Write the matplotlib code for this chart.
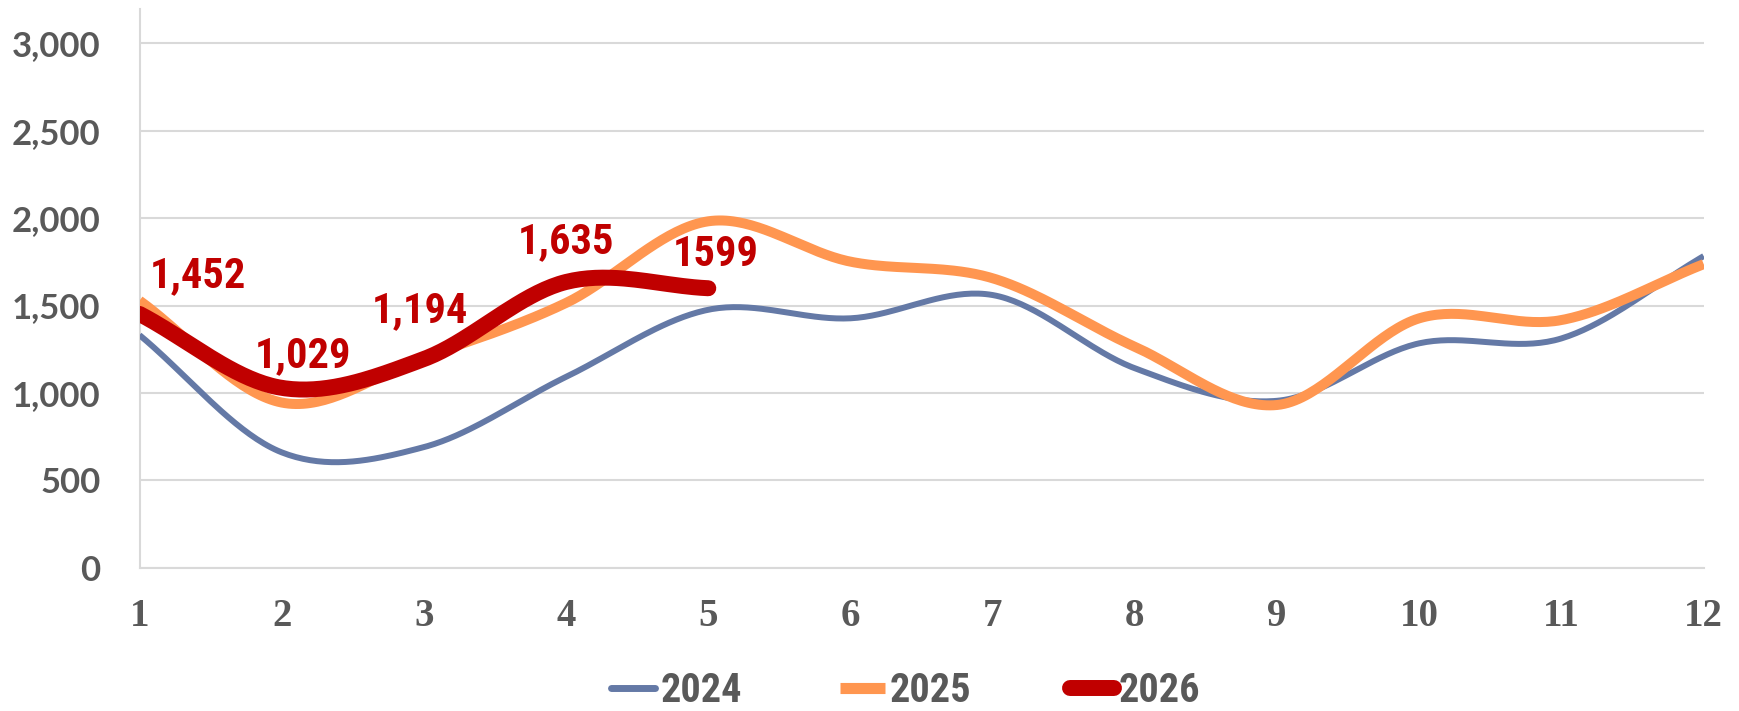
import os
import numpy as np
import matplotlib
matplotlib.use("Agg")
import matplotlib.pyplot as plt
from matplotlib import font_manager
from matplotlib.lines import Line2D

# ---- data ----
months = [1, 2, 3, 4, 5, 6, 7, 8, 9, 10, 11, 12]
s2024 = [1331, 660, 690, 1092, 1476, 1427, 1560, 1141, 955, 1284, 1312, 1783]
s2025 = [1528, 945, 1205, 1515, 1982, 1751, 1656, 1264, 931, 1427, 1417, 1737]
s2026 = [1452, 1029, 1194, 1635, 1599]
labels2026 = ["1,452", "1,029", "1,194", "1,635", "1599"]
series_names = ["2024", "2025", "2026"]
yticks = [0, 500, 1000, 1500, 2000, 2500, 3000]

GREY = "#595959"
C24, C25, C26 = "#6479A6", "#FF9650", "#C00000"


def has_font(name):
    try:
        font_manager.findfont(font_manager.FontProperties(family=name), fallback_to_default=False)
        return True
    except Exception:
        return False


def find_condensed_bold():
    prio = ["liberation sans narrow", "roboto condensed", "open sans condensed",
            "noto sans condensed", "dejavu sans condensed", "dejavu sans"]
    best = None
    for f in font_manager.fontManager.ttflist:
        n = f.name.lower()
        fn = os.path.basename(f.fname).lower()
        w = f.weight
        if isinstance(w, str):
            w = {"bold": 700, "heavy": 800, "black": 900, "semibold": 600,
                 "demibold": 600}.get(w.lower(), 400)
        cond = ("narrow" in n or "condensed" in n or "narrow" in fn or "condensed" in fn
                or str(f.stretch) in ("condensed", "semi-condensed", "extra-condensed"))
        if not cond or w < 600 or "oblique" in fn or "italic" in fn:
            continue
        key = n + " " + fn
        rank = len(prio)
        for i, p in enumerate(prio):
            if p.split()[0] in key and ("narrow" in key or "condensed" in key):
                rank = i
                break
        if best is None or rank < best[0]:
            best = (rank, f.fname)
    return best[1] if best else None


COND_PATH = find_condensed_bold()
SANS = "Lato" if has_font("Lato") else "DejaVu Sans"
SERIF = "Liberation Serif" if has_font("Liberation Serif") else "DejaVu Serif"


def cond_fp(size_cond, size_fallback):
    if COND_PATH:
        return font_manager.FontProperties(fname=COND_PATH, size=size_cond)
    return font_manager.FontProperties(family="Liberation Sans", weight="bold", size=size_fallback)


def smooth(x, y, n=40):
    """Catmull-Rom style smoothing similar to spreadsheet smoothed lines."""
    x = np.asarray(x, float)
    y = np.asarray(y, float)
    k = len(x)
    tx = np.zeros(k)
    ty = np.zeros(k)
    for i in range(k):
        a = max(i - 1, 0)
        b = min(i + 1, k - 1)
        tx[i] = (x[b] - x[a]) / (b - a)
        ty[i] = (y[b] - y[a]) / (b - a)
    X, Y = [], []
    for i in range(k - 1):
        t = np.linspace(0, 1, n, endpoint=(i == k - 2))
        h00 = 2 * t**3 - 3 * t**2 + 1
        h10 = t**3 - 2 * t**2 + t
        h01 = -2 * t**3 + 3 * t**2
        h11 = t**3 - t**2
        X.append(h00 * x[i] + h10 * tx[i] + h01 * x[i + 1] + h11 * tx[i + 1])
        Y.append(h00 * y[i] + h10 * ty[i] + h01 * y[i + 1] + h11 * ty[i + 1])
    return np.concatenate(X), np.concatenate(Y)


fig = plt.figure(figsize=(17.39, 7.11), dpi=100)
ax = fig.add_axes([139.5 / 1739, 143.3 / 711, (1703.7 - 139.5) / 1739, (567.7 - 9.3) / 711])

x24, y24 = smooth(months, s2024)
x25, y25 = smooth(months, s2025)
x26, y26 = smooth(months[:len(s2026)], s2026)

ax.plot(x24, y24, color=C24, lw=4.3, solid_capstyle="butt", zorder=3)
ax.plot(x25, y25, color=C25, lw=7.2, solid_capstyle="butt", zorder=4)
ax.plot(x26, y26, color=C26, lw=11.5, solid_capstyle="round", zorder=5)

# data labels for 2026 (offsets in pixels from their points)
offsets = [(58, 38), (21, 32), (-4, 48), (0, 40), (7, 34)]
lab_fp = cond_fp(30.5, 24)
for m, v, lab, (dx, dy) in zip(months, s2026, labels2026, offsets):
    ax.annotate(lab, (m, v), xytext=(dx, dy), textcoords="offset pixels",
                ha="center", va="center", color=C26, fontproperties=lab_fp, zorder=6)

ax.set_xlim(1, 12)
ax.set_ylim(0, 3195)
ax.set_xticks(months)
ax.set_xticklabels([str(m) for m in months], fontfamily=SERIF, fontweight="bold",
                   fontsize=28, color=GREY)
ax.set_yticks(yticks)
ax.set_yticklabels([f"{v:,}" for v in yticks], fontfamily=SANS, fontweight="bold",
                   fontsize=25, color=GREY)
ax.tick_params(axis="both", length=0)
ax.tick_params(axis="y", pad=28)
ax.tick_params(axis="x", pad=22)

ax.grid(axis="y", color="#D9D9D9", lw=1.5, zorder=0)
ax.set_axisbelow(True)
for s in ["top", "right"]:
    ax.spines[s].set_visible(False)
ax.spines["left"].set_color("#D9D9D9")
ax.spines["left"].set_linewidth(1.5)
ax.spines["bottom"].set_color("#D9D9D9")
ax.spines["bottom"].set_linewidth(1.5)

handles = [
    Line2D([], [], color=C24, lw=5.0, solid_capstyle="round"),
    Line2D([], [], color=C25, lw=8.0, solid_capstyle="butt"),
    Line2D([], [], color=C26, lw=11.5, solid_capstyle="round"),
]
leg_fp = cond_fp(29, 22)
leg = fig.legend(handles, series_names, loc="lower left",
                 bbox_to_anchor=(611 / 1739, 1 / 711), ncol=3, frameon=False,
                 prop=leg_fp,
                 handlelength=1.1, handletextpad=0.12, columnspacing=2.45,
                 borderpad=0.0, borderaxespad=0.0)
for t in leg.get_texts():
    t.set_color(GREY)

fig.savefig("out.png", dpi=100)
